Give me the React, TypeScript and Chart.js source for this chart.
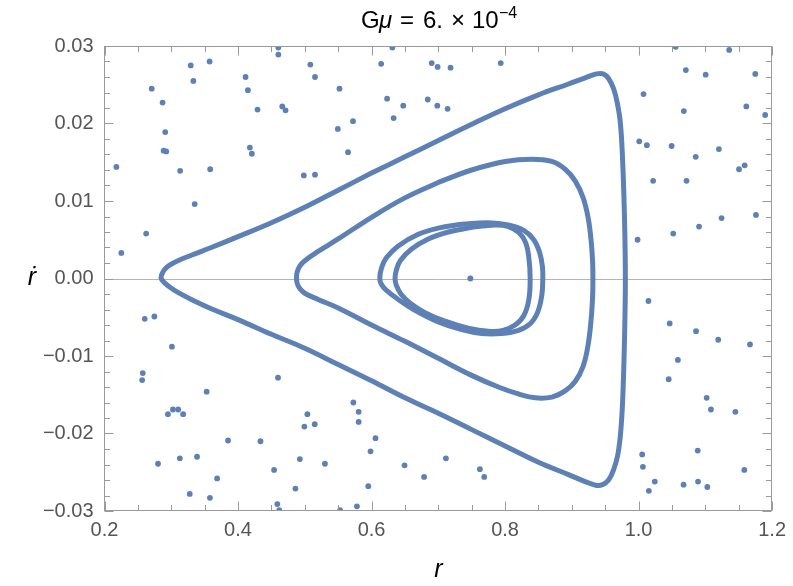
import React, { useEffect, useRef } from "react";
import { Chart, registerables } from "chart.js";

Chart.register(...registerables);

const BLUE = "#5E81B5";

// Scattered (chaotic) points: r and ṙ
const scatterR = [
  0.2178, 0.2252, 0.2707, 0.2624, 0.287, 0.291, 0.2886, 0.2925, 0.3133, 0.3292, 0.3331, 0.3351,
  0.3574, 0.3583, 0.4113, 0.4148, 0.4292, 0.4177, 0.4207, 0.4604, 0.4604, 0.4663, 0.4712, 0.4985,
  0.5153, 0.5083, 0.5153, 0.552, 0.5495, 0.5722, 0.5648, 0.6144, 0.6312, 0.6233, 0.6331, 0.6475,
  0.6842, 0.6901, 0.699, 0.7183, 0.6985, 0.7139, 0.7935,
  1.0555, 1.1357, 1.0708, 1.1005, 1.1748, 1.0074, 1.0678, 1.1614, 1.1896, 1.001, 1.0124, 1.0495,
  1.0856, 1.1203, 1.1505, 1.1589, 1.0218, 1.0718, 1.1758, 1.1243, 1.0906, 1.0519, 0.9985,
  0.2603, 0.2747, 0.301, 0.2573, 0.2564, 0.353, 0.4599, 0.295, 0.3025, 0.3104, 0.3178, 0.3851,
  0.4336, 0.2802, 0.3129, 0.3386, 0.3687, 0.3277, 0.3579, 0.454, 0.4589, 0.4618, 0.486, 0.4926,
  0.4994, 0.5039,
  0.5149, 0.5302, 0.5728, 0.5807, 0.5807, 0.6059, 0.5985, 0.5951, 0.5781, 0.5529, 0.6494, 0.6787,
  0.7114, 0.7623, 0.7688,
  1.0148, 1.0466, 1.0861, 1.1193, 1.1669, 1.0589, 1.0451, 1.102, 1.1084, 1.145, 1.0054, 1.0886,
  1.0065, 1.1584, 1.0243, 1.0674, 1.0891, 1.103, 1.0154,
];
const scatterV = [
  0.0144, 0.0033, 0.0245, 0.0058, 0.0227, 0.0189, 0.0165, 0.0164, 0.0139, 0.0275, 0.0255, 0.0096,
  0.028, 0.0141, 0.026, 0.0243, 0.0218, 0.0169, 0.0161, 0.0298, 0.0289, 0.0222, 0.0217, 0.0133,
  0.0134, 0.0276, 0.026, 0.0245, 0.0193, 0.0203, 0.0163, 0.0277, 0.0298, 0.0232, 0.0207, 0.0223,
  0.0231, 0.0278, 0.0273, 0.0272, 0.0223, 0.0219, 0.0278,
  0.0299, 0.0295, 0.0269, 0.0263, 0.0264, 0.0238, 0.0216, 0.0222, 0.0211, 0.0177, 0.0172, 0.0171,
  0.0157, 0.0167, 0.0141, 0.0146, 0.0126, 0.0126, 0.0082, 0.0078, 0.0067, 0.0058, 0.005,
  -0.0052, -0.0049, -0.0088, -0.0122, -0.0131, -0.0146, -0.0128, -0.0175, -0.0169, -0.0169, -0.0175, -0.0209,
  -0.021, -0.0239, -0.0232, -0.023, -0.0258, -0.0278, -0.0283, -0.0247, -0.0291, -0.0299, -0.0271, -0.0233,
  -0.0191, -0.0175,
  -0.0188, -0.0239, -0.016, -0.0172, -0.0185, -0.0206, -0.0223, -0.0268, -0.0294, -0.0299, -0.0241, -0.0256,
  -0.0232, -0.0246, -0.0256,
  -0.0029, -0.0058, -0.0068, -0.0079, -0.0085, -0.0105, -0.013, -0.0154, -0.0169, -0.0172, -0.0227, -0.0222,
  -0.0243, -0.0247, -0.0262, -0.0266, -0.0262, -0.0269, -0.0274,
];

// Outer (large triangular) orbit, traced from the upper branch
const outerR = [
  0.6, 0.65, 0.7, 0.75, 0.8, 0.85, 0.895, 0.92, 0.937, 0.947, 0.955, 0.9625, 0.968, 0.9728,
  0.9762, 0.979, 0.9802, 0.979, 0.9765, 0.9735, 0.969, 0.9625, 0.955, 0.946, 0.937, 0.92,
  0.895, 0.85, 0.8, 0.75, 0.7, 0.65, 0.6, 0.55, 0.5, 0.45, 0.4, 0.36, 0.33, 0.31,
  0.2975, 0.2905, 0.2862, 0.2847, 0.2862, 0.2905, 0.297, 0.31, 0.33, 0.36, 0.4, 0.45,
  0.5, 0.55, 0.6,
];
const outerV = [
  0.0136, 0.0157, 0.0178, 0.0199, 0.0219, 0.0237, 0.0251, 0.0259, 0.0264, 0.0264, 0.0258, 0.0245, 0.0227, 0.02,
  0.015, 0.0075, 0, -0.0075, -0.015, -0.0195, -0.0227, -0.0247, -0.026, -0.0266, -0.0267, -0.0262,
  -0.0253, -0.0237, -0.0216, -0.0195, -0.0174, -0.0154, -0.0132, -0.0111, -0.009, -0.0072, -0.0053, -0.0039, -0.0027, -0.0018,
  -0.0011, -0.0006, -0.0002, 0.0001, 0.0006, 0.0012, 0.0017, 0.0023, 0.003, 0.004, 0.0054, 0.0072,
  0.0092, 0.0114, 0.0136,
];

// Middle orbit, traced from the upper branch
const middleR = [
  0.7, 0.75, 0.8, 0.84, 0.87, 0.89, 0.905, 0.917, 0.9245, 0.929, 0.9312, 0.9316, 0.9312, 0.929,
  0.9245, 0.917, 0.905, 0.89, 0.87, 0.845, 0.82, 0.79, 0.75, 0.7, 0.65, 0.6, 0.55, 0.52, 0.5,
  0.4925, 0.4885, 0.4876, 0.4885, 0.4925, 0.5, 0.52, 0.55, 0.6, 0.65, 0.7,
];
const middleV = [
  0.0124, 0.014, 0.0151, 0.0154, 0.0151, 0.0141, 0.0126, 0.0104, 0.0078, 0.0048, 0.002, 0, -0.0022, -0.0052,
  -0.0085, -0.0113, -0.0133, -0.0145, -0.0153, -0.0154, -0.0149, -0.014, -0.0125, -0.0103, -0.0081, -0.006, -0.0038, -0.0027, -0.0019,
  -0.0013, -0.0006, 0.0001, 0.0008, 0.0016, 0.0023, 0.0035, 0.0051, 0.0079, 0.0104, 0.0124,
];

// Inner loop A (larger), traced from its top
const loopAR = [
  0.735, 0.775, 0.805, 0.828, 0.843, 0.852, 0.856, 0.8565, 0.855, 0.849, 0.838, 0.82, 0.795,
  0.765, 0.735, 0.7, 0.665, 0.64, 0.622, 0.6145, 0.6123, 0.615, 0.6225, 0.64, 0.67, 0.7, 0.735,
];
const loopAV = [
  0.007, 0.0072, 0.0069, 0.0062, 0.005, 0.0033, 0.0015, 0, -0.0022, -0.0043, -0.0058, -0.0067, -0.0071,
  -0.0071, -0.0066, -0.0056, -0.0041, -0.0027, -0.0015, -0.0007, 0, 0.0014, 0.0027, 0.0042, 0.0057, 0.0065, 0.007,
];

// Inner loop B (smaller), traced from its top
const loopBR = [
  0.75, 0.785, 0.805, 0.821, 0.831, 0.8355, 0.8376, 0.8355, 0.828, 0.815, 0.797, 0.775, 0.745,
  0.71, 0.68, 0.658, 0.644, 0.6372, 0.6352, 0.6372, 0.643, 0.66, 0.685, 0.715, 0.75,
];
const loopBV = [
  0.0066, 0.0069, 0.0067, 0.0059, 0.0046, 0.0028, 0, -0.0028, -0.0048, -0.006, -0.0067, -0.0068, -0.0064,
  -0.0055, -0.0044, -0.0032, -0.002, -0.0009, 0, 0.0011, 0.0023, 0.0038, 0.0051, 0.006, 0.0066,
];

// Fixed point
const centerR = [0.748];
const centerV = [0];

// Axis ticks
const xTickValues = [0.2, 0.4, 0.6, 0.8, 1.0, 1.2];
const yTickValues = [-0.03, -0.02, -0.01, 0, 0.01, 0.02, 0.03];

const TITLE_MAIN = ["G", "μ", "=", "6.", "×", "10"];
const TITLE_SUP = "−4";
const X_LABEL = "r";
const Y_LABEL = "ṙ";

const FONT = "'Liberation Sans', Arial, sans-serif";

function pts(rs: number[], vs: number[]) {
  return rs.map((r, i) => ({ x: r, y: vs[i] }));
}

const framePlugin = {
  id: "mmaFrame",
  beforeDatasetsDraw(chart: any) {
    const { ctx, chartArea, scales } = chart;
    const y0 = Math.round(scales.y.getPixelForValue(0)) + 0.5;
    ctx.save();
    ctx.strokeStyle = "#b4b4b4";
    ctx.lineWidth = 1;
    ctx.beginPath();
    ctx.moveTo(chartArea.left, y0);
    ctx.lineTo(chartArea.right, y0);
    ctx.stroke();
    ctx.restore();
  },
  afterDraw(chart: any) {
    const { ctx, chartArea, scales } = chart;
    const L = Math.floor(chartArea.left) + 0.5;
    const R = Math.round(chartArea.right) - 0.5;
    const T = Math.round(chartArea.top) + 0.5;
    const B = Math.round(chartArea.bottom) - 0.5;
    ctx.save();
    ctx.strokeStyle = "#9a9a9a";
    ctx.lineWidth = 1;
    ctx.strokeRect(L, T, R - L, B - T);
    ctx.beginPath();
    for (let k = 0; k <= 20; k++) {
      const v = 0.2 + 0.05 * k;
      const px = Math.round(scales.x.getPixelForValue(v)) + 0.5;
      const len = k % 4 === 0 ? 9 : 5.5;
      ctx.moveTo(px, B);
      ctx.lineTo(px, B - len);
      ctx.moveTo(px, T);
      ctx.lineTo(px, T + len);
    }
    for (let k = 0; k <= 30; k++) {
      const v = -0.03 + 0.002 * k;
      const py = Math.round(scales.y.getPixelForValue(v)) + 0.5;
      const len = k % 5 === 0 ? 9 : 5.5;
      ctx.moveTo(L, py);
      ctx.lineTo(L + len, py);
      ctx.moveTo(R, py);
      ctx.lineTo(R - len, py);
    }
    ctx.stroke();

    // Title
    ctx.fillStyle = "#000";
    ctx.textBaseline = "alphabetic";
    ctx.textAlign = "left";
    const xs = [361, 379, 400, 423, 451, 472];
    TITLE_MAIN.forEach((s, i) => {
      ctx.font = (i === 1 ? "italic " : "") + "24px " + FONT;
      ctx.fillText(s, xs[i], 28);
    });
    ctx.font = "16px " + FONT;
    ctx.fillText(TITLE_SUP, 499, 18);

    // Axis labels
    ctx.font = "italic 25px " + FONT;
    ctx.textAlign = "center";
    ctx.fillText(X_LABEL, (chartArea.left + chartArea.right) / 2, 577);
    ctx.fillText(Y_LABEL, 32, 285);
    ctx.restore();
  },
};

export default function App() {
  const ref = useRef<HTMLCanvasElement | null>(null);
  useEffect(() => {
    if (!ref.current) return;
    const lineDs = (rs: number[], vs: number[]) => ({
      type: "scatter" as const,
      data: pts(rs, vs),
      showLine: true,
      borderColor: BLUE,
      backgroundColor: BLUE,
      borderWidth: 5,
      pointRadius: 0,
      tension: 0.4,
      borderJoinStyle: "round" as const,
      borderCapStyle: "round" as const,
      fill: false,
    });
    const chart = new Chart(ref.current, {
      type: "scatter",
      data: {
        datasets: [
          {
            data: pts(scatterR, scatterV),
            pointRadius: 2.9,
            pointBorderWidth: 0,
            backgroundColor: BLUE,
            borderColor: BLUE,
          },
          lineDs(outerR, outerV),
          lineDs(middleR, middleV),
          lineDs(loopAR, loopAV),
          lineDs(loopBR, loopBV),
          {
            data: pts(centerR, centerV),
            pointRadius: 3,
            pointBorderWidth: 0,
            backgroundColor: BLUE,
            borderColor: BLUE,
          },
        ],
      },
      options: {
        animation: false,
        responsive: false,
        devicePixelRatio: 1,
        layout: { padding: { top: 46, right: 15, bottom: 0, left: 0 } },
        plugins: { legend: { display: false }, tooltip: { enabled: false }, title: { display: false } },
        scales: {
          x: {
            type: "linear",
            min: 0.2,
            max: 1.2,
            afterBuildTicks: (s: any) => {
              s.ticks = xTickValues.map((v) => ({ value: v }));
            },
            afterFit: (s: any) => {
              s.height = 75;
            },
            grid: { display: false, drawTicks: false },
            border: { display: false },
            ticks: {
              padding: 7,
              color: "#555",
              font: { family: FONT, size: 20 },
              maxRotation: 0,
              callback: (v: any) => Number(v).toFixed(1),
            },
          },
          y: {
            type: "linear",
            min: -0.03,
            max: 0.03,
            afterBuildTicks: (s: any) => {
              s.ticks = yTickValues.map((v) => ({ value: v }));
            },
            afterFit: (s: any) => {
              s.width = 104.5;
            },
            grid: { display: false, drawTicks: false },
            border: { display: false },
            ticks: {
              padding: 11,
              color: "#555",
              font: { family: FONT, size: 20 },
              callback: (v: any) => {
                const n = Number(v);
                if (Math.abs(n) < 1e-9) return "0.00";
                const s = Math.abs(n).toFixed(2);
                return n < 0 ? "\u2212" + s : s;
              },
            },
          },
        },
      },
      plugins: [framePlugin],
    });
    return () => chart.destroy();
  }, []);
  return (
    <div style={{ position: "absolute", left: 0, top: 0, width: 793, height: 586, background: "#fff" }}>
      <canvas ref={ref} width={793} height={586} style={{ display: "block" }} />
    </div>
  );
}
